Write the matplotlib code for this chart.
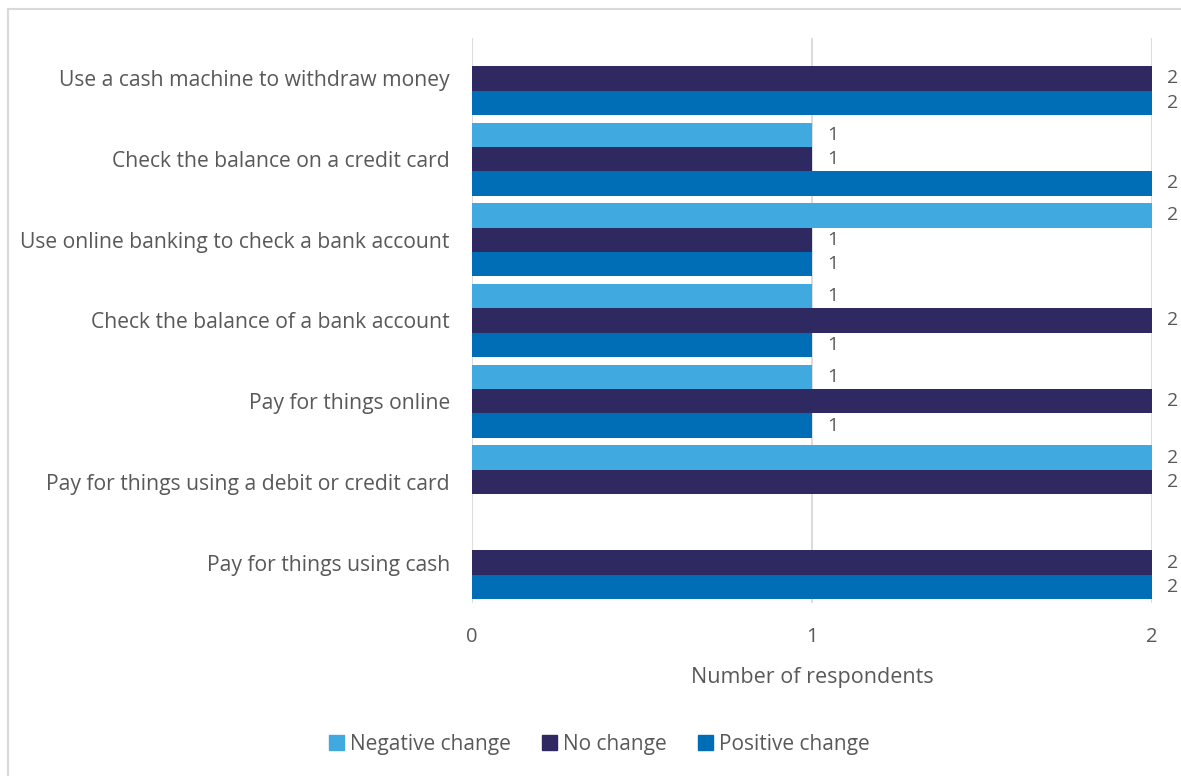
import matplotlib
matplotlib.use("Agg")
import matplotlib.pyplot as plt
from matplotlib.lines import Line2D
from matplotlib.patches import Patch
import numpy as np

plt.rcParams['font.family'] = ['Open Sans', 'DejaVu Sans']

# categories listed bottom to top (barh draws from the bottom)
categories = [
    "Pay for things using cash",
    "Pay for things using a debit or credit card",
    "Pay for things online",
    "Check the balance of a bank account",
    "Use online banking to check a bank account",
    "Check the balance on a credit card",
    "Use a cash machine to withdraw money",
]
negative = [0, 2, 1, 1, 2, 1, 0]
no_change = [2, 2, 2, 2, 1, 1, 2]
positive = [2, 0, 1, 1, 1, 2, 2]

series_names = ["Negative change", "No change", "Positive change"]
colors = ["#3FA9E0", "#2E2960", "#006DB7"]
text_color = "#595959"

fig = plt.figure(figsize=(11.81, 7.76), dpi=100)
ax = fig.add_axes([0.3997, 0.223, 0.5758, 0.728])

y = np.arange(len(categories))
h = 0.302
offsets = [h, 0, -h]   # negative on top, positive at the bottom of each group
for vals, off, col in zip([negative, no_change, positive], offsets, colors):
    ax.barh(y + off, vals, height=h, color=col, zorder=2)
    for yi, v in zip(y, vals):
        if v:
            ax.annotate(str(v), (v, yi + off), xytext=(11, 0), textcoords="offset points",
                        ha="left", va="center", fontsize=14, color=text_color,
                        annotation_clip=False)

ax.set_xlim(0, 2)
ax.set_ylim(-0.5, 6.5)
ax.set_xticks([0, 1, 2])
ax.set_yticks(y)
ax.set_yticklabels(categories)
ax.tick_params(axis="y", length=0, labelsize=15.2, labelcolor=text_color, pad=16)
ax.tick_params(axis="x", length=0, labelsize=14.5, labelcolor=text_color, pad=17)
ax.grid(axis="x", color="#D9D9D9", linewidth=1.3, zorder=0)
for s in ax.spines.values():
    s.set_visible(False)
ax.set_xlabel("Number of respondents", fontsize=15.5, color=text_color, labelpad=15)

handles = [Patch(color=c) for c in colors]
fig.legend(handles, series_names, loc="center", bbox_to_anchor=(0.5075, 0.041), ncol=3,
           frameon=False, fontsize=15, labelcolor=text_color, handlelength=0.7,
           handleheight=0.7, handletextpad=0.3, columnspacing=1.5)

# light frame round the chart area
fig.add_artist(Line2D([0.0065, 0.0065], [0, 0.9885], color="#D9D9D9", linewidth=1.5))
fig.add_artist(Line2D([0.0065, 1.0], [0.9885, 0.9885], color="#D9D9D9", linewidth=1.5))

fig.savefig("out.png", dpi=100)
